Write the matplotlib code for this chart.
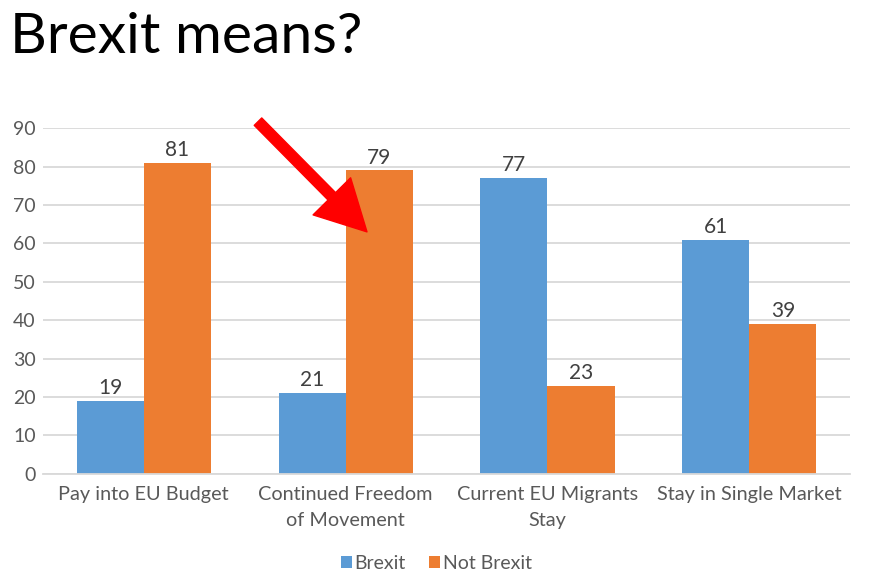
import numpy as np
import matplotlib.pyplot as plt

categories = ["Pay into EU Budget", "Continued Freedom\nof Movement",
              "Current EU Migrants\nStay", "Stay in Single Market"]
brexit = [19, 21, 77, 61]
not_brexit = [81, 79, 23, 39]

blue = "#5B9BD5"
orange = "#ED7D31"
grey = "#595959"

plt.rcParams['font.family'] = ['Lato', 'DejaVu Sans']

fig = plt.figure(figsize=(8.73, 5.80), dpi=100)
ax = fig.add_axes([0.049, 0.183, 0.925, 0.596])

x = np.arange(len(categories))
w = 0.332
b1 = ax.bar(x - w / 2, brexit, w, color=blue, label="Brexit", zorder=2)
b2 = ax.bar(x + w / 2, not_brexit, w, color=orange, label="Not Brexit", zorder=2)

for bars in (b1, b2):
    for bar in bars:
        ax.annotate(f"{bar.get_height():.0f}",
                    (bar.get_x() + bar.get_width() / 2, bar.get_height()),
                    xytext=(0, 2), textcoords="offset points",
                    ha="center", va="bottom", fontsize=15, color="#404040")

ax.set_xlim(-0.5, len(categories) - 0.5)
ax.set_ylim(0, 90)
ax.set_yticks(range(0, 91, 10))
ax.yaxis.grid(True, color="#d9d9d9", linewidth=1.3, zorder=0)
ax.set_axisbelow(True)
for s in ["top", "right", "left"]:
    ax.spines[s].set_visible(False)
ax.spines["bottom"].set_color("#d9d9d9")
ax.spines["bottom"].set_linewidth(1.3)
ax.tick_params(length=0, colors=grey, labelsize=14)
ax.tick_params(axis="y", pad=5)
ax.tick_params(axis="x", pad=9, labelsize=14.3)
ax.set_xticks(x)
ax.set_xticklabels(categories, linespacing=1.6)

# red arrow pointing at the freedom of movement bar
ax.annotate("", xy=(1.106, 63), xytext=(0.566, 91.7),
            arrowprops=dict(arrowstyle="simple,head_length=1.8,head_width=1.9,tail_width=0.38",
                            color="red", mutation_scale=20, shrinkA=0, shrinkB=0),
            annotation_clip=False)

fig.text(0.011, 0.935, "Brexit means?", fontsize=41, ha="left", va="center", color="black")

leg = fig.legend(handles=[b1, b2], loc="center", bbox_to_anchor=(0.5, 0.029),
                 ncol=2, frameon=False, fontsize=14, handlelength=0.55,
                 handleheight=0.55, handletextpad=0.15, columnspacing=1.2)
for t in leg.get_texts():
    t.set_color(grey)

fig.savefig("out.png", dpi=100)
